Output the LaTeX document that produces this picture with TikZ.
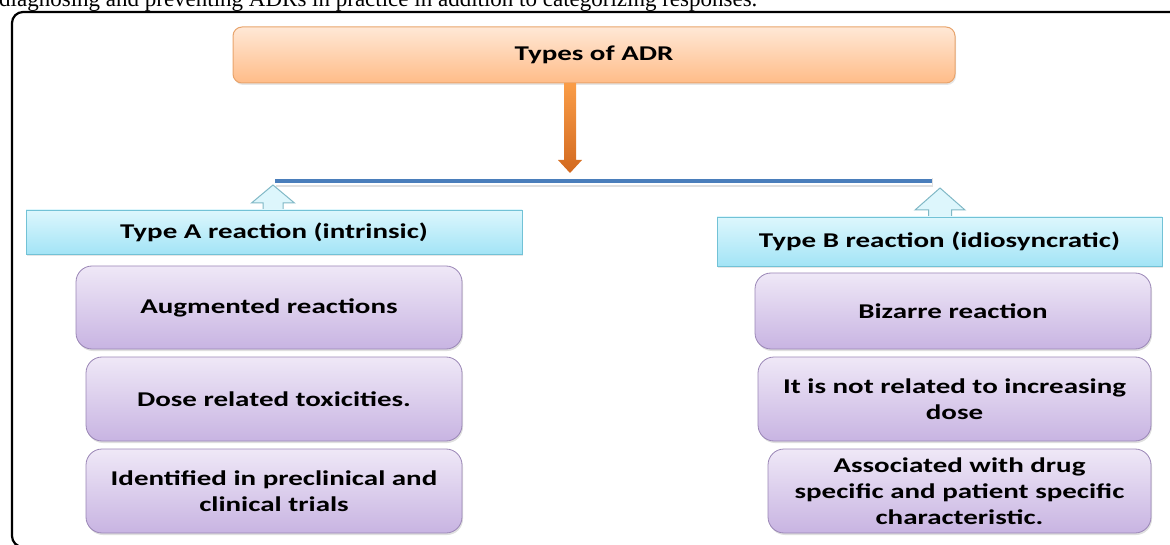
\documentclass[tikz,border=0pt]{standalone}
\usepackage{fontspec}
\setmainfont{Carlito}
\newfontfamily\boxfont[FakeStretch=1.38]{Carlito}
\newfontfamily\captionserif{Liberation Serif}
\usetikzlibrary{positioning,shadows}

\definecolor{adrtop}{HTML}{FFE8D6}
\definecolor{adrbot}{HTML}{FFBC88}
\definecolor{adrline}{HTML}{E8A46C}
\definecolor{arrtop}{HTML}{FA9D48}
\definecolor{arrbot}{HTML}{D2691F}
\definecolor{barblue}{HTML}{4A7EBB}
\definecolor{cyantop}{HTML}{DDF7FD}
\definecolor{cyanbot}{HTML}{A3E4F6}
\definecolor{cyanline}{HTML}{72C2D6}
\definecolor{uparrfill}{HTML}{DDF6FC}
\definecolor{uparrline}{HTML}{80B8C6}
\definecolor{purptop}{HTML}{EFE8F7}
\definecolor{purpbot}{HTML}{C8B4E2}
\definecolor{purpline}{HTML}{9A86B6}

\begin{document}
\begin{tikzpicture}
      [ x=1pt, y=-1pt,
        boxtext/.style={font=\boxfont\fontsize{21}{26}\selectfont\bfseries, align=center,
                        inner sep=0pt, outer sep=0pt},
        rootbox/.style={boxtext, draw=adrline, line width=1pt, rounded corners=9pt,
                        top color=adrtop, bottom color=adrbot,
                        drop shadow={opacity=0.2, shadow xshift=1pt, shadow yshift=-2pt}},
        typebox/.style={boxtext, draw=cyanline, line width=0.8pt,
                        top color=cyantop, bottom color=cyanbot,
                        drop shadow={opacity=0.2, shadow xshift=1pt, shadow yshift=-2pt}},
        itembox/.style={boxtext, draw=purpline, line width=0.8pt, rounded corners=16pt,
                        top color=purptop, bottom color=purpbot,
                        drop shadow={opacity=0.25, shadow xshift=1pt, shadow yshift=-2pt}},
        uparrow/.style={draw=uparrline, fill=uparrfill, line width=1pt, line join=miter}
      ]
      \useasboundingbox (0,0) rectangle (1170,545);
      \clip (0,0) rectangle (1170,545);

      % text cut off above the figure
      \node[anchor=base west, inner sep=0pt,
            font=\captionserif\fontsize{23}{26}\selectfont] (caption) at (-1,7)
            {diagnosing and preventing ADRs in practice in addition to categorizing responses.};

      % frame
      \draw[line width=2.2pt, rounded corners=11pt] (12,547) rectangle (1190,12);

      % top box and bar
      \node[rootbox, minimum width=722, minimum height=56] (adr) at (594,55) {Types of ADR};

      \coordinate (barL) at (275,181);
      \coordinate (barR) at (932,181);
      \coordinate (tip)  at (570,173);
      \coordinate (upA)  at (273,211);
      \coordinate (upB)  at (940,218);

      \shade[top color=arrtop, bottom color=arrbot]
            (adr.south -| tip) ++(-6,0) -- ++(0,77) -- ++(-6,0) -- (tip)
            -- ++(12,-13) -- ++(-6,0) -- ++(0,-77) -- cycle;

      \draw[line width=9pt, black!12] ([shift={(1pt,-1.5pt)}]barL) -- ([shift={(1pt,-1.5pt)}]barR);
      \draw[line width=8pt, white] (barL) -- (barR);
      \draw[line width=4pt, barblue] (barL) -- (barR);

      % hollow up arrows
      \draw[uparrow] (upA) ++(-10,0) -- ++(0,-8) -- ++(-11.5,0) -- ++(21.5,-18)
                     -- ++(21.5,18) -- ++(-11.5,0) -- ++(0,8) -- cycle;
      \draw[uparrow] (upB) ++(-11.5,0) -- ++(0,-8) -- ++(-13.5,0) -- ++(25,-22)
                     -- ++(25,22) -- ++(-13.5,0) -- ++(0,8) -- cycle;

      % type A column
      \node[typebox, minimum width=496, minimum height=44] (typeA) at (274,232)
            {Type A reaction (intrinsic)};
      \node[itembox, minimum width=386, minimum height=83, anchor=north east] (aug)
            at (462,266) {Augmented reactions};
      \node[itembox, minimum width=376, minimum height=84, anchor=north east] (dose)
            at ([yshift=-8pt]aug.south east) {Dose related toxicities.};
      \node[itembox, minimum width=376, minimum height=84, anchor=north east] (ident)
            at ([yshift=-8pt]dose.south east) {Identified in preclinical and\\clinical trials};

      % type B column
      \node[typebox, minimum width=445, minimum height=49] (typeB) at (939.5,241.5)
            {Type B reaction (idiosyncratic)};
      \node[itembox, minimum width=396, minimum height=76, anchor=north east] (bizarre)
            at (1151,273) {Bizarre reaction};
      \node[itembox, minimum width=393, minimum height=84, anchor=north east] (notdose)
            at ([yshift=-8pt]bizarre.south east) {It is not related to increasing\\dose};
      \node[itembox, minimum width=383, minimum height=84, anchor=north east] (assoc)
            at ([yshift=-8pt]notdose.south east)
            {Associated with drug\\specific and patient specific\\characteristic.};
\end{tikzpicture}
\end{document}
